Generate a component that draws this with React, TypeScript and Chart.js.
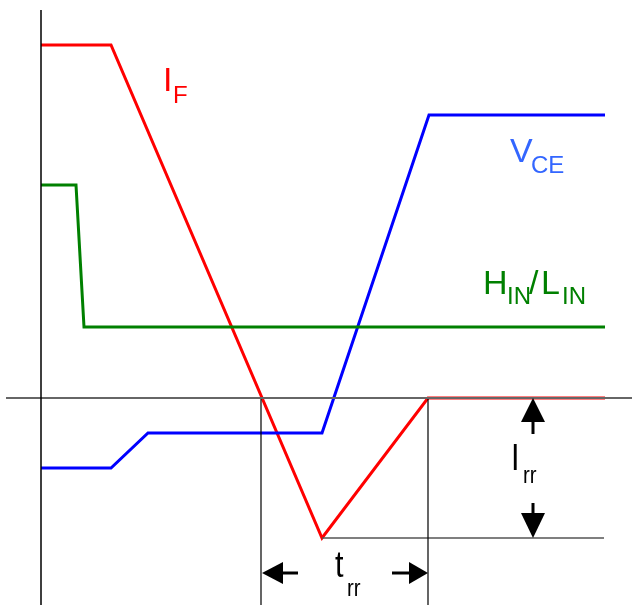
import React, { useEffect, useRef } from "react";
import { Chart, registerables } from "chart.js";

Chart.register(...registerables);

// Time (x) and amplitude (y) values of each waveform, arbitrary units
const ifTime = [0, 70, 281, 387, 564];
const ifLevel = [353, 353, -140, 0, 0];

const hinTime = [0, 35, 43, 564];
const hinLevel = [213, 213, 71, 71];

const vceTime = [0, 70, 107, 281, 388, 564];
const vceLevel = [-70, -70, -35, -35, 283, 283];

// reference lines
const yAxisTime = [0, 0];
const yAxisLevel = [388, -207];
const zeroTime = [-35, 591];
const zeroLevel = [0, 0];
const trrStartTime = [220, 220];
const trrEndTime = [387, 387];
const markerLevel = [0, -207];
const irrTime = [281, 563];
const irrLevel = [-140, -140];

const pts = (xs: number[], ys: number[]) => xs.map((x, i) => ({ x, y: ys[i] }));

const RED = "#ff0000";
const BLUE = "#0000ff";
const GREEN = "#008000";

const labelPlugin = {
  id: "labels",
  afterDatasetsDraw(chart: any) {
    const ctx = chart.ctx as CanvasRenderingContext2D;
    const xs = chart.scales.x;
    const ys = chart.scales.y;
    const X = (v: number) => xs.getPixelForValue(v);
    const Y = (v: number) => ys.getPixelForValue(v);
    const fam = '"Liberation Sans", Arial, sans-serif';

    const text = (s: string, x: number, y: number, size: number, color: string, sx = 1) => {
      ctx.save();
      ctx.fillStyle = color;
      ctx.font = `${size}px ${fam}`;
      ctx.textBaseline = "alphabetic";
      ctx.textAlign = "left";
      ctx.translate(X(x), Y(y));
      ctx.scale(sx, 1);
      ctx.fillText(s, 0, 0);
      ctx.restore();
    };

    // I_F
    text("I", 122, 307, 34, RED);
    text("F", 132, 295, 24, RED);
    // V_CE
    text("V", 469, 236, 34, "#3366ff");
    text("CE", 490, 225, 24, "#3366ff");
    // H_IN / L_IN
    text("H", 442, 104, 34, GREEN);
    text("IN", 466, 94, 24, GREEN);
    text("/", 488, 104, 34, GREEN);
    text("L", 500, 104, 34, GREEN);
    text("IN", 521, 94, 24, GREEN);
    // I_rr
    text("I", 470, -72, 36, "#000", 0.85);
    text("rr", 482, -85, 24, "#000", 0.85);
    // t_rr
    text("t", 294, -179, 36, "#000", 0.85);
    text("rr", 306, -198, 24, "#000", 0.85);

    // arrows
    ctx.save();
    ctx.fillStyle = "#000";
    ctx.strokeStyle = "#000";
    ctx.lineWidth = 3;
    const vArrow = (x: number, tip: number, base: number, shaftEnd: number) => {
      const px = X(x);
      ctx.beginPath();
      ctx.moveTo(px, Y(tip));
      ctx.lineTo(px - 12, Y(base));
      ctx.lineTo(px + 12, Y(base));
      ctx.closePath();
      ctx.fill();
      ctx.beginPath();
      ctx.moveTo(px, Y(base));
      ctx.lineTo(px, Y(shaftEnd));
      ctx.stroke();
    };
    const hArrow = (y: number, tip: number, base: number, shaftEnd: number) => {
      const py = Y(y);
      ctx.beginPath();
      ctx.moveTo(X(tip), py);
      ctx.lineTo(X(base), py - 11);
      ctx.lineTo(X(base), py + 11);
      ctx.closePath();
      ctx.fill();
      ctx.beginPath();
      ctx.moveTo(X(base), py);
      ctx.lineTo(X(shaftEnd), py);
      ctx.stroke();
    };
    vArrow(492, 0, -24, -36);
    vArrow(492, -140, -115, -105);
    hArrow(-175, 221, 242, 257);
    hArrow(-175, 387, 368, 351);
    ctx.restore();
  },
};

export default function App() {
  const ref = useRef<HTMLCanvasElement | null>(null);
  useEffect(() => {
    if (!ref.current) return;
    const thin = (data: any[], color: string, w: number) => ({
      data,
      borderColor: color,
      borderWidth: w,
      pointRadius: 0,
      fill: false,
      tension: 0,
    });
    const chart = new Chart(ref.current, {
      type: "line",
      data: {
        datasets: [
          thin(pts(yAxisTime, yAxisLevel), "#000", 1.5),
          thin(pts(zeroTime, zeroLevel), "#666", 2),
          thin(pts(trrStartTime, markerLevel), "#000", 1.2),
          thin(pts(trrEndTime, markerLevel), "#000", 1.2),
          thin(pts(irrTime, irrLevel), "#555", 1.5),
          thin(pts(hinTime, hinLevel), GREEN, 3),
          thin(pts(vceTime, vceLevel), BLUE, 3),
          thin(pts(ifTime, ifLevel), RED, 3),
        ],
      },
      options: {
        animation: false,
        responsive: false,
        devicePixelRatio: 1,
        layout: { padding: 0 },
        plugins: { legend: { display: false }, tooltip: { enabled: false } },
        scales: {
          x: { type: "linear", min: -41, max: 591, display: false },
          y: { type: "linear", min: -207, max: 398, display: false },
        },
      },
      plugins: [labelPlugin],
    });
    return () => chart.destroy();
  }, []);
  return (
    <div style={{ position: "absolute", left: 0, top: 0, width: 632, height: 605, background: "#fff" }}>
      <canvas ref={ref} width={632} height={605} />
    </div>
  );
}
